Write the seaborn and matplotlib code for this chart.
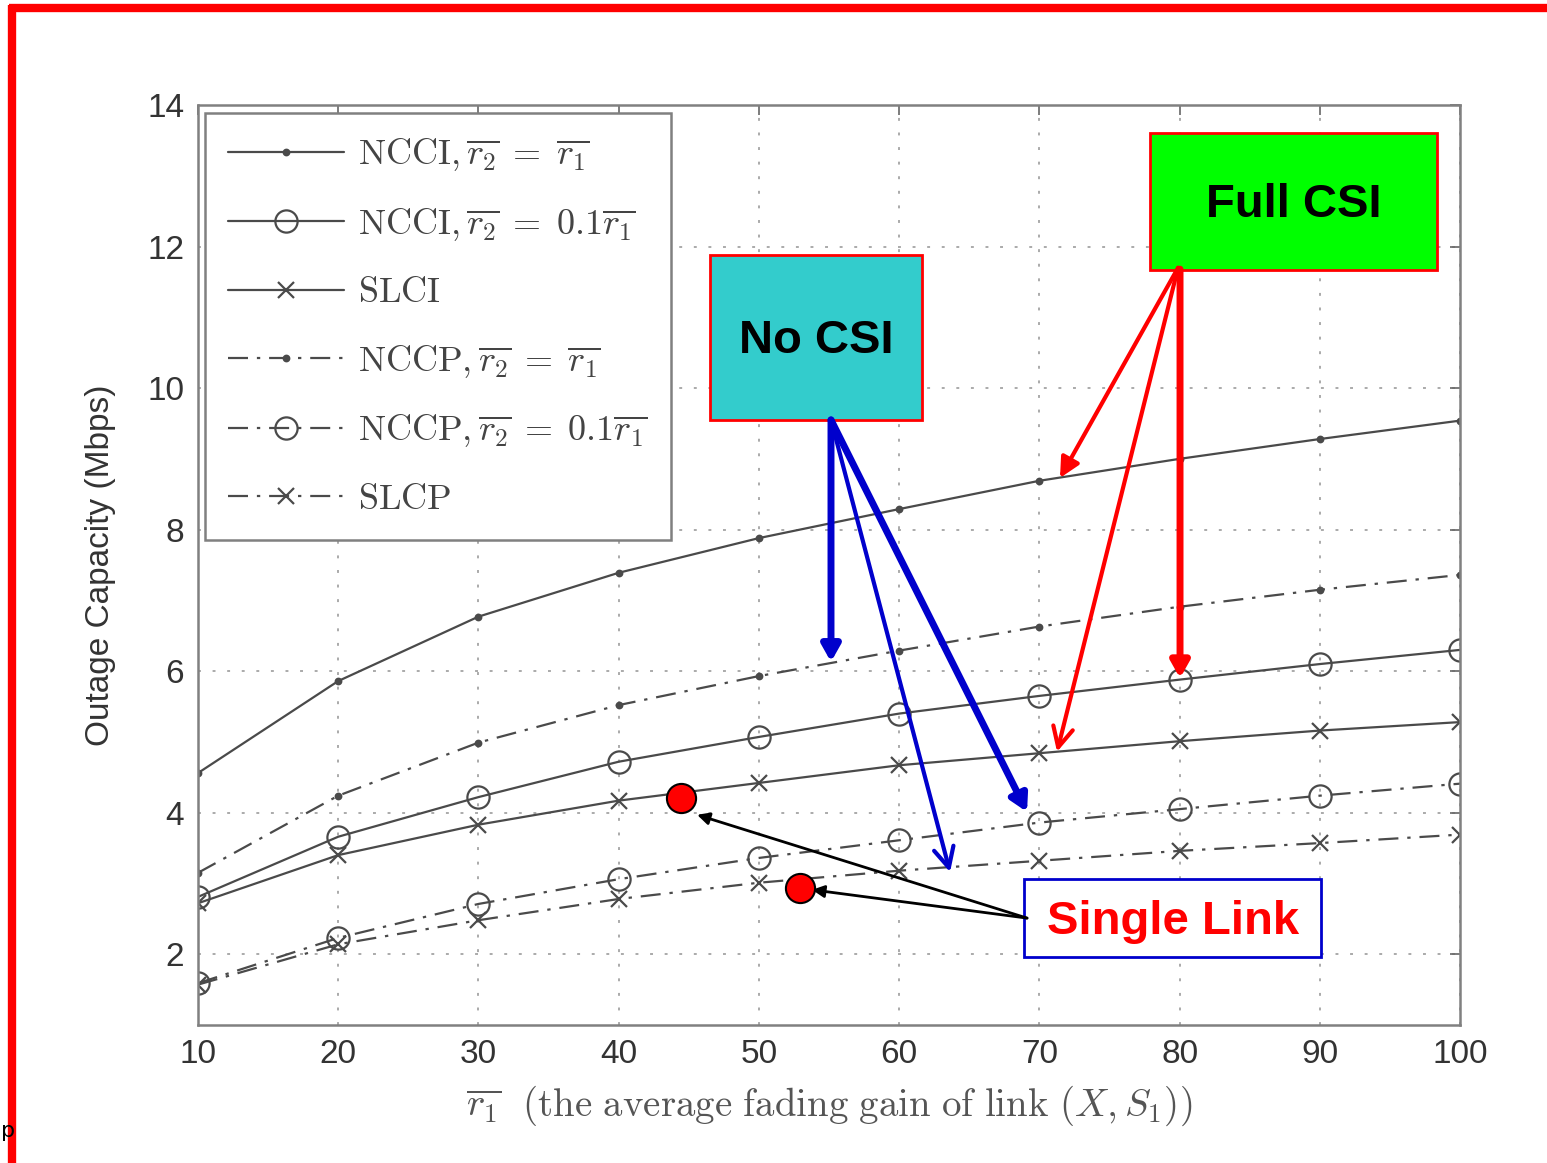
import numpy as np
import pandas as pd
import seaborn as sns
import matplotlib
matplotlib.use("Agg")
import matplotlib.pyplot as plt
from matplotlib.patches import Rectangle
from matplotlib.lines import Line2D

# average fading gain of link (X, S1)
r1 = [10, 20, 30, 40, 50, 60, 70, 80, 90, 100]

# outage capacity (Mbps)
ncci_eq = [4.56, 5.86, 6.77, 7.39, 7.88, 8.29, 8.69, 9.00, 9.28, 9.54]
ncci_01 = [2.81, 3.66, 4.22, 4.72, 5.07, 5.40, 5.65, 5.88, 6.10, 6.30]
slci = [2.72, 3.40, 3.83, 4.17, 4.42, 4.67, 4.84, 5.01, 5.16, 5.28]
nccp_eq = [3.15, 4.24, 4.99, 5.52, 5.93, 6.29, 6.63, 6.91, 7.15, 7.36]
nccp_01 = [1.59, 2.23, 2.71, 3.06, 3.36, 3.61, 3.86, 4.05, 4.24, 4.41]
slcp = [1.57, 2.14, 2.48, 2.78, 3.01, 3.18, 3.32, 3.46, 3.57, 3.69]

labels = [
    r"$\mathrm{NCCI},\overline{r_2}\;=\;\overline{r_1}$",
    r"$\mathrm{NCCI},\overline{r_2}\;=\;0.1\overline{r_1}$",
    r"$\mathrm{SLCI}$",
    r"$\mathrm{NCCP},\overline{r_2}\;=\;\overline{r_1}$",
    r"$\mathrm{NCCP},\overline{r_2}\;=\;0.1\overline{r_1}$",
    r"$\mathrm{SLCP}$",
]

# single-link operating points highlighted on the plot
single_x = [44.45, 52.93]
single_y = [4.21, 2.94]

x_ticks = [10, 20, 30, 40, 50, 60, 70, 80, 90, 100]
y_ticks = [2, 4, 6, 8, 10, 12, 14]

sns.set_theme(style="white")
plt.rcParams["font.family"] = ["Liberation Sans", "DejaVu Sans"]
plt.rcParams["mathtext.fontset"] = "cm"

fig = plt.figure(figsize=(15.47, 11.63), dpi=100)
ax = fig.add_axes([0.128, 0.1187, 0.8158, 0.791])

line_col = "#4a4a4a"
dashdot = (0, (9, 4, 1.5, 4))
series = [
    (ncci_eq, "-", ".", 8),
    (ncci_01, "-", "o", 16),
    (slci, "-", "x", 11),
    (nccp_eq, dashdot, ".", 8),
    (nccp_01, dashdot, "o", 16),
    (slcp, dashdot, "x", 11),
]
for (vals, ls, mk, ms), lab in zip(series, labels):
    sns.lineplot(x=r1, y=vals, ax=ax, color=line_col, linestyle=ls,
                 marker=mk, markersize=ms, markerfacecolor="none" if mk == "o" else line_col,
                 markeredgecolor=line_col, markeredgewidth=1.6, linewidth=1.6,
                 label=lab)

ax.set_xlim(10, 100)
ax.set_ylim(1, 14)
ax.set_xticks(x_ticks)
ax.set_yticks(y_ticks)
ax.tick_params(direction="in", length=7, width=1.2, colors="#666666",
               labelcolor="#333333", labelsize=24, top=True, right=True,
               pad=10)
for s in ax.spines.values():
    s.set_color("#808080")
    s.set_linewidth(1.8)
ax.grid(True, linestyle=(0, (1.5, 6)), color="#aaaaaa", linewidth=1.4)

ax.set_ylabel("Outage Capacity (Mbps)", fontsize=24, color="#333333", labelpad=22)
ax.set_xlabel(r"$\overline{r_1}\ \ \mathrm{(the\ average\ fading\ gain\ of\ link\ }(X,S_1))$",
              fontsize=28, color="#555555", labelpad=10)

leg = ax.legend(loc="upper left", bbox_to_anchor=(0.0055, 0.9913), borderaxespad=0,
                fontsize=26, handlelength=3.2, handletextpad=0.4, labelspacing=0.9,
                borderpad=0.65, fancybox=False, framealpha=1, edgecolor="#808080")
leg.get_frame().set_linewidth(1.8)
for t in leg.get_texts():
    t.set_color("#444444")

# callout boxes
def callout(x0, y0, x1, y1, face, edge, text, tcolor):
    ax.add_patch(Rectangle((x0, y0), x1 - x0, y1 - y0, transform=ax.transAxes,
                           facecolor=face, edgecolor=edge, linewidth=2, zorder=6))
    ax.text((x0 + x1) / 2, (y0 + y1) / 2 - 0.004, text, transform=ax.transAxes,
            ha="center", va="center", fontsize=34, fontweight="bold",
            color=tcolor, zorder=7)

callout(0.7544, 0.8207, 0.9818, 0.9696, "#00ff00", "#ff0000", "Full CSI", "black")
callout(0.4057, 0.6576, 0.5737, 0.8370, "#33cccc", "#ff0000", "No CSI", "black")
callout(0.6545, 0.0739, 0.8899, 0.1587, "white", "#0000cc", "Single Link", "#ff0000")

def arrow(start, end, color, lw, style):
    ax.annotate("", xy=end, xytext=start,
                arrowprops=dict(arrowstyle=style, color=color, lw=lw,
                                shrinkA=0, shrinkB=0), zorder=8)

full_src = (79.89, 11.70)
arrow(full_src, (71.47, 8.73), "#ff0000", 3, "-|>,head_length=1.0,head_width=0.5")
arrow(full_src, (71.26, 4.86), "#ff0000", 3, "->,head_length=1.2,head_width=0.6")
arrow((80.03, 11.68), (80.03, 5.90), "#ff0000", 5, "-|>,head_length=0.8,head_width=0.45")

no_src = (55.14, 9.55)
arrow(no_src, (55.14, 6.13), "#0000cc", 5, "-|>,head_length=0.8,head_width=0.45")
arrow(no_src, (63.63, 3.16), "#0000cc", 3, "->,head_length=1.2,head_width=0.6")
arrow(no_src, (69.12, 4.01), "#0000cc", 5, "-|>,head_length=0.8,head_width=0.45")

sl_src = (69.12, 2.51)
ax.plot(single_x, single_y, linestyle="none", marker="o", markersize=21,
        markerfacecolor="#ff0000", markeredgecolor="black", markeredgewidth=1.5, zorder=9)
arrow(sl_src, (45.59, 3.97), "black", 2, "-|>,head_length=0.6,head_width=0.3")
arrow(sl_src, (53.79, 2.91), "black", 2, "-|>,head_length=0.6,head_width=0.3")

# red frame along the top and left edges
fig.add_artist(Line2D([0.0055, 1.0], [0.9931, 0.9931], transform=fig.transFigure,
                      color="#ff0000", linewidth=6, solid_capstyle="butt"))
fig.add_artist(Line2D([0.0078, 0.0078], [0.0, 0.9958], transform=fig.transFigure,
                      color="#ff0000", linewidth=6, solid_capstyle="butt"))
fig.text(0.0005, 0.022, "p", fontsize=16, color="black", family="DejaVu Sans")

fig.savefig("out.png", dpi=100)
